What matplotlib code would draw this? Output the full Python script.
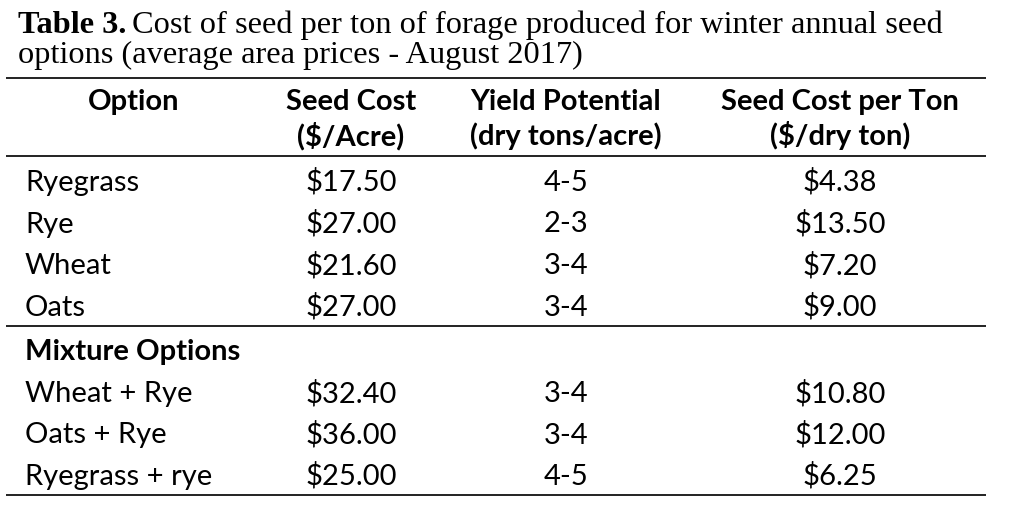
import matplotlib.pyplot as plt

# table contents
header1 = ["Option", "Seed Cost", "Yield Potential", "Seed Cost per Ton"]
header2 = ["", "($/Acre)", "(dry tons/acre)", "($/dry ton)"]

options = ["Ryegrass", "Rye", "Wheat", "Oats"]
seed_cost = ["$17.50", "$27.00", "$21.60", "$27.00"]
yield_pot = ["4-5", "2-3", "3-4", "3-4"]
cost_ton = ["$4.38", "$13.50", "$7.20", "$9.00"]

mix_title = "Mixture Options"
mix_options = ["Wheat + Rye", "Oats + Rye", "Ryegrass + rye"]
mix_seed_cost = ["$32.40", "$36.00", "$25.00"]
mix_yield_pot = ["3-4", "3-4", "4-5"]
mix_cost_ton = ["$10.80", "$12.00", "$6.25"]

W, H = 1024, 526
fig = plt.figure(figsize=(W / 100, H / 100), dpi=100)
ax = fig.add_axes([0, 0, 1, 1])
ax.set_xlim(0, W)
ax.set_ylim(H, 0)
ax.axis("off")

sans = "Lato"
serif = "Liberation Serif"
fs = 21
tfs = 23.3
col_x = [25, 351, 566, 840]

# caption
t = ax.text(18, 33, "Table 3.", fontfamily=serif, fontweight="bold", fontsize=tfs, va="baseline")
fig.canvas.draw()
bb = t.get_window_extent()
ax.text(18 + bb.width + 6, 33, "Cost of seed per ton of forage produced for winter annual seed",
        fontfamily=serif, fontsize=tfs, va="baseline")
ax.text(18, 63, "options (average area prices - August 2017)", fontfamily=serif, fontsize=tfs, va="baseline")

# rules
for y in [78, 156, 326, 495]:
    ax.plot([6, 986], [y, y], color="#222222", lw=1.4, solid_capstyle="butt")

# headers
hx = [134, 351, 566, 840]
for i in range(4):
    ax.text(hx[i], 110, header1[i], fontfamily=sans, fontweight="bold", fontsize=fs, ha="center", va="baseline")
    ax.text(hx[i], 145, header2[i], fontfamily=sans, fontweight="bold", fontsize=fs, ha="center", va="baseline")

def draw_rows(names, c1, c2, c3, y0):
    for k in range(len(names)):
        y = y0 + k * 41.5
        ax.text(col_x[0], y, names[k], fontfamily=sans, fontsize=fs, va="baseline")
        ax.text(col_x[1], y, c1[k], fontfamily=sans, fontsize=fs, ha="center", va="baseline")
        ax.text(col_x[2], y, c2[k], fontfamily=sans, fontsize=fs, ha="center", va="baseline")
        ax.text(col_x[3], y, c3[k], fontfamily=sans, fontsize=fs, ha="center", va="baseline")

draw_rows(options, seed_cost, yield_pot, cost_ton, 191)
ax.text(col_x[0], 360, mix_title, fontfamily=sans, fontweight="bold", fontsize=fs, va="baseline")
draw_rows(mix_options, mix_seed_cost, mix_yield_pot, mix_cost_ton, 402)

fig.savefig("out.png", dpi=100, facecolor="white")
